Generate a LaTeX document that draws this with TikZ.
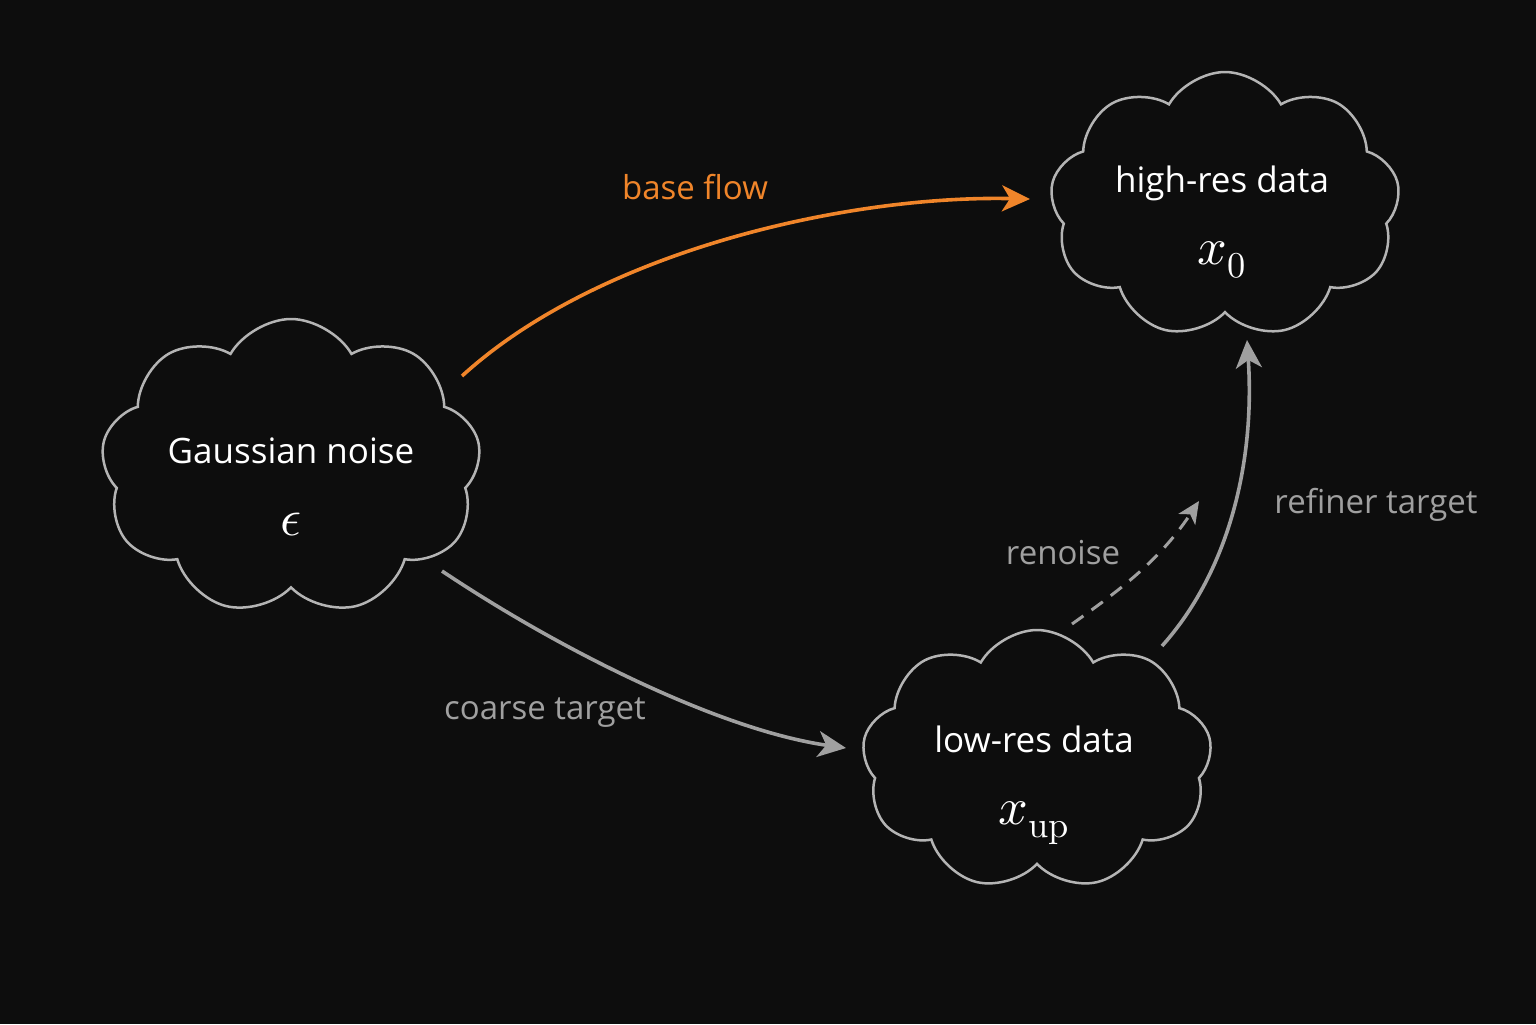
\documentclass[tikz,border=0pt]{standalone}
\usepackage{fontspec}
\setmainfont{Open Sans}
\usepackage{unicode-math}
\setmathfont{Latin Modern Math}
\usetikzlibrary{shapes.symbols,arrows.meta}
\definecolor{bg}{HTML}{0D0D0D}
\definecolor{edge}{HTML}{B4B4B4}
\definecolor{arr}{HTML}{A0A0A0}
\definecolor{org}{HTML}{F0852A}
\begin{document}
\begin{tikzpicture}[x=0.5pt,y=-0.5pt,
  cl/.style={cloud,cloud puffs=9,cloud puff arc=120,cloud ignores aspect,draw=edge,line width=1.25pt,fill=bg,inner sep=0pt},
  tx/.style={text=white,align=center,font=\fontsize{17.5}{36}\selectfont,inner sep=0pt},
  con/.style={draw=arr,line width=1.8pt,-{Stealth[length=14pt,width=13pt,inset=4pt]}},
  lab/.style={text=arr,font=\fontsize{16.5}{19}\selectfont}]
\fill[bg] (0,0) rectangle (1536,1024);
\useasboundingbox (0,0) rectangle (1536,1024);
\node[cl,minimum width=190pt,minimum height=148pt] (g) at (291,467) {};
\node[cl,minimum width=175pt,minimum height=133pt] (h) at (1225,205) {};
\node[cl,minimum width=175pt,minimum height=130pt] (l) at (1037,760) {};
\node[tx] (gt) at (291,487) {Gaussian noise\\{\fontsize{26}{26}\selectfont$\epsilon$}};
\node[tx] (ht) at (1222,222) {high-res data\\{\fontsize{26}{26}\selectfont$x_0$}};
\node[tx] (lt) at (1034,785) {low-res data\\{\fontsize{26}{26}\selectfont$x_{\symup{up}}$}};
\coordinate (gs) at (462,376); \coordinate (he) at (1030,199);
\coordinate (gs2) at (442,571); \coordinate (le) at (846,748);
\coordinate (ls) at (1162,646); \coordinate (hs) at (1247,340);
\coordinate (rs) at (1072,624); \coordinate (re) at (1199,501);
\draw[con,draw=org] (gs) .. controls (600,250) and (850,195) .. (he);
\draw[con] (gs2) .. controls (560,650) and (720,730) .. (le);
\draw[con] (ls) .. controls (1230,570) and (1255,460) .. (hs);
\draw[con,line width=1.5pt,dash pattern=on 7pt off 5pt,-{Stealth[length=11pt,width=10pt,inset=3pt]}] (rs) .. controls (1120,590) and (1160,560) .. (re);
\node[lab,text=org] (bf) at (695,187) {base flow};
\node[lab] (ct) at (545,713) {coarse target};
\node[lab] (rt) at (1376,505) {refiner target};
\node[lab] (rn) at (1063,553) {renoise};
\end{tikzpicture}
\end{document}
